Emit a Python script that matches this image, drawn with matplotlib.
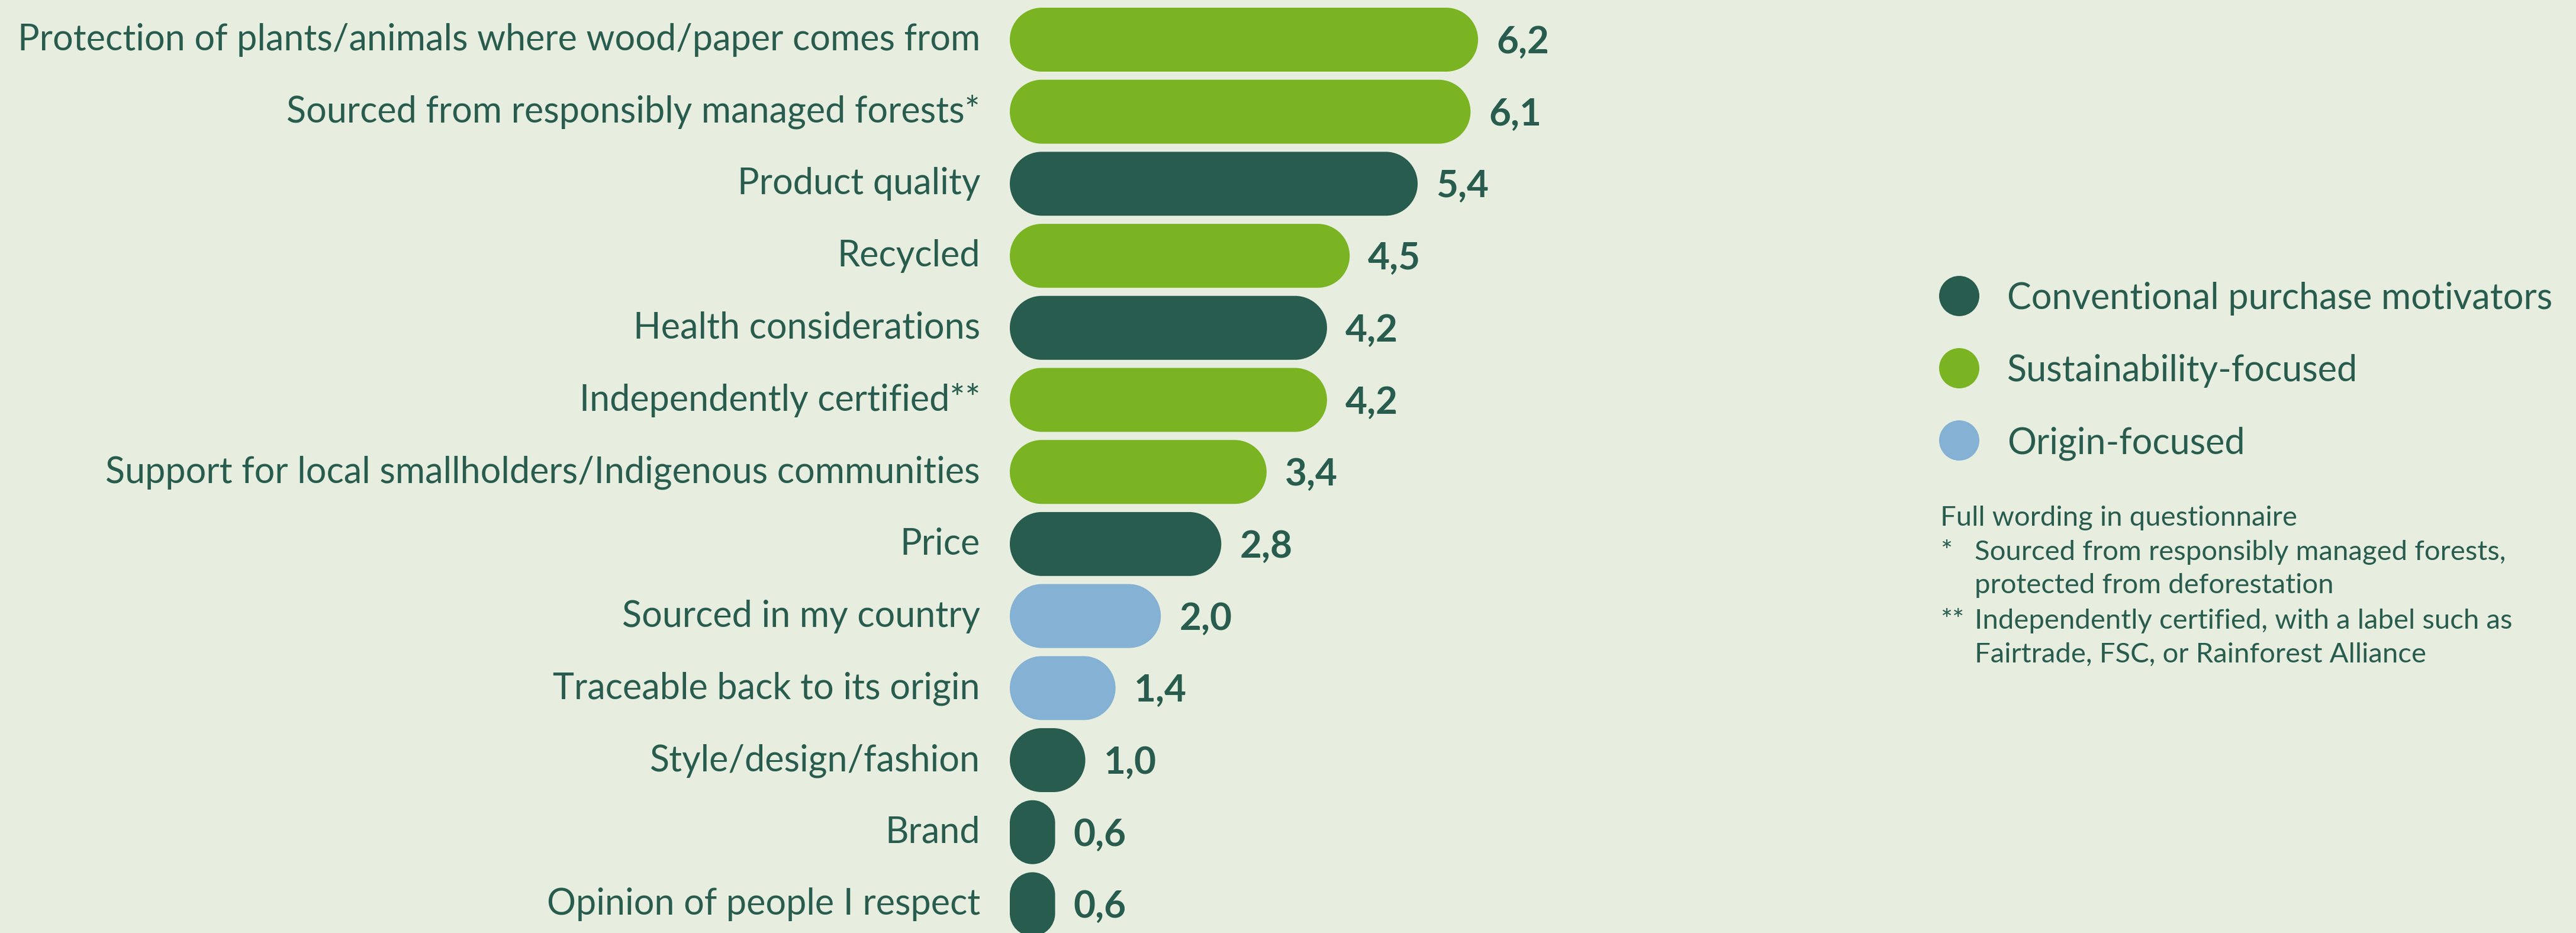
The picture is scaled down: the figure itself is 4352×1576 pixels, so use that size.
import matplotlib
matplotlib.use("Agg")
import matplotlib.pyplot as plt
from matplotlib.path import Path
from matplotlib.patches import PathPatch, Circle

# ====== Data ======
labels = [
    "Protection of plants/animals where wood/paper comes from",
    "Sourced from responsibly managed forests*",
    "Product quality",
    "Recycled",
    "Health considerations",
    "Independently certified**",
    "Support for local smallholders/Indigenous communities",
    "Price",
    "Sourced in my country",
    "Traceable back to its origin",
    "Style/design/fashion",
    "Brand",
    "Opinion of people I respect",
]
values = [6.2, 6.1, 5.4, 4.5, 4.2, 4.2, 3.4, 2.8, 2.0, 1.4, 1.0, 0.6, 0.6]
groups = [1, 1, 0, 1, 0, 1, 1, 0, 2, 2, 0, 0, 0]

group_names = ["Conventional purchase motivators", "Sustainability-focused", "Origin-focused"]
group_colors = ["#285C4E", "#7AB422", "#84B1D4"]

note_title = "Full wording in questionnaire"
note_marks = ["*", "**"]
note_lines = [
    ["Sourced from responsibly managed forests,", "protected from deforestation"],
    ["Independently certified, with a label such as", "Fairtrade, FSC, or Rainforest Alliance"],
]

# ====== Style ======
BG = "#E7EEDF"
TEXT = "#285C4E"
FONT = ["Lato", "DejaVu Sans"]
plt.rcParams["font.family"] = FONT

W, H = 4352, 1576
fig = plt.figure(figsize=(W / 100, H / 100), dpi=100)
fig.patch.set_facecolor(BG)

# main bar axes, placed so one row = 121.7 px and one unit = 127.6 px
row_px, unit_px = 121.7, 127.6
n = len(values)
top_px = 67 - row_px / 2
ax_h = n * row_px
ax = fig.add_axes([1706 / W, (H - top_px - ax_h) / H, 10 * unit_px / W, ax_h / H])
ax.set_xlim(0, 10)
ax.set_ylim(n - 0.5, -0.5)
ax.axis("off")

bar_h = 108 / row_px
K = 0.5523


def pill(x0, yc, w, h, color):
    # rounded bar: corners are circles in pixel space
    r_px = min(w * unit_px, h * row_px) / 2
    rx, ry = r_px / unit_px, r_px / row_px
    x1 = x0 + w
    y0, y1 = yc - h / 2, yc + h / 2
    verts = [
        (x0 + rx, y0), (x1 - rx, y0),
        (x1 - rx + K * rx, y0), (x1, y0 + ry - K * ry), (x1, y0 + ry),
        (x1, y1 - ry),
        (x1, y1 - ry + K * ry), (x1 - rx + K * rx, y1), (x1 - rx, y1),
        (x0 + rx, y1),
        (x0 + rx - K * rx, y1), (x0, y1 - ry + K * ry), (x0, y1 - ry),
        (x0, y0 + ry),
        (x0, y0 + ry - K * ry), (x0 + rx - K * rx, y0), (x0 + rx, y0),
        (x0 + rx, y0),
    ]
    codes = [Path.MOVETO, Path.LINETO,
             Path.CURVE4, Path.CURVE4, Path.CURVE4,
             Path.LINETO,
             Path.CURVE4, Path.CURVE4, Path.CURVE4,
             Path.LINETO,
             Path.CURVE4, Path.CURVE4, Path.CURVE4,
             Path.LINETO,
             Path.CURVE4, Path.CURVE4, Path.CURVE4,
             Path.CLOSEPOLY]
    ax.add_patch(PathPatch(Path(verts, codes), facecolor=color, edgecolor="none", clip_on=False))


for i, (lab, v, g) in enumerate(zip(labels, values, groups)):
    pill(0, i, v, bar_h, group_colors[g])
    ax.text(-50 / unit_px, i + 18 / row_px, lab, ha="right", va="baseline",
            fontsize=44, color=TEXT)
    ax.text(v + 31 / unit_px, i + 23 / row_px, f"{v:.1f}".replace(".", ","),
            ha="left", va="baseline", fontsize=46, fontweight="bold", color=TEXT)

# ====== Legend and notes (pixel coordinates) ======
lg = fig.add_axes([0, 0, 1, 1])
lg.set_xlim(0, W)
lg.set_ylim(H, 0)
lg.axis("off")

for k, (name, col) in enumerate(zip(group_names, group_colors)):
    cy = 500 + k * 122
    lg.add_patch(Circle((3310, cy), 34, facecolor=col, edgecolor="none"))
    lg.text(3391, cy + 22, name, ha="left", va="baseline", fontsize=44, color=TEXT)

lg.text(3278, 888, note_title, ha="left", va="baseline", fontsize=34, color=TEXT)
baselines = [[946, 1002], [1062, 1119]]
for mark, lines, ys in zip(note_marks, note_lines, baselines):
    lg.text(3278, ys[0], mark, ha="left", va="baseline", fontsize=34, color=TEXT)
    for line, y in zip(lines, ys):
        lg.text(3336, y, line, ha="left", va="baseline", fontsize=34, color=TEXT)

fig.savefig("out.png", dpi=100, facecolor=BG)
